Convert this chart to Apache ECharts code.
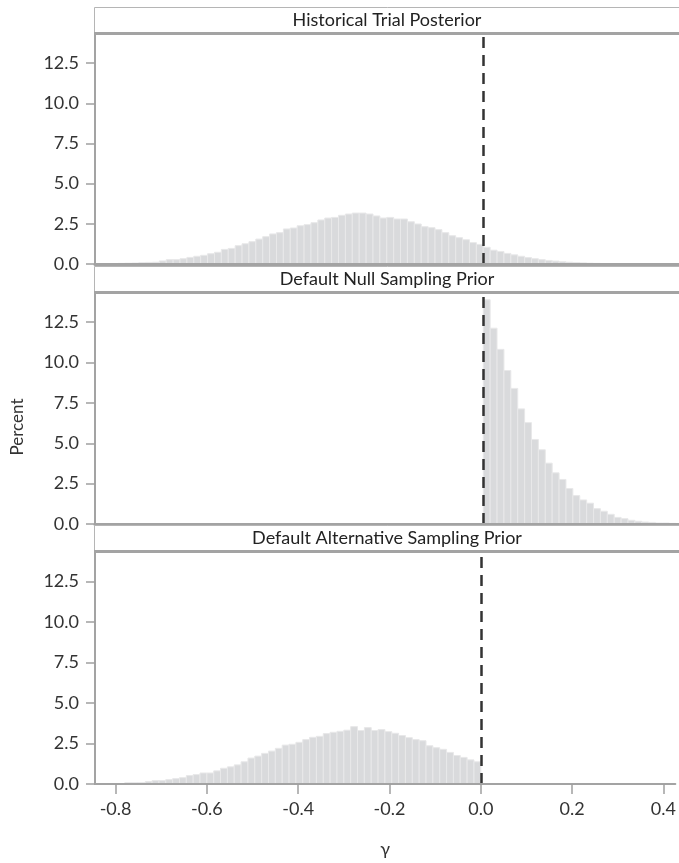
<!DOCTYPE html>
<html>
<head>
<meta charset="utf-8">
<script src="https://cdn.jsdelivr.net/npm/echarts@6/dist/echarts.min.js"></script>
<style>
html,body{margin:0;padding:0;background:#fff;}
#chart{width:679px;height:863px;}
</style>
</head>
<body>
<div id="chart"></div>
<script>
// ---- data ----
const binWidth = 0.015;
const panelTitles = ['Historical Trial Posterior', 'Default Null Sampling Prior', 'Default Alternative Sampling Prior'];
const histStart = -0.84;
const histPosterior = [
  0.02,0.02,0.03,0.04,0.05,0.06,0.08,0.10,0.11,0.19,0.27,0.27,0.33,0.41,0.48,0.54,0.64,0.73,0.91,0.97,
  1.14,1.26,1.39,1.55,1.70,1.87,1.95,2.18,2.24,2.38,2.45,2.57,2.74,2.86,2.90,3.03,3.11,3.17,3.17,3.11,
  2.99,2.86,2.90,2.80,2.80,2.63,2.49,2.32,2.26,2.14,1.95,1.76,1.64,1.51,1.33,1.22,1.04,0.86,0.78,0.66,
  0.57,0.48,0.40,0.33,0.27,0.22,0.18,0.14,0.11,0.09,0.07,0.05,0.04,0.03,0.02,0.02,0.01,0.01,0.01,0.01
];
const nullStart = 0.0;
const nullPrior = [
  13.89,12.13,10.82,9.51,8.40,7.13,6.28,5.24,4.60,3.77,3.17,2.76,2.20,1.76,1.49,1.29,0.95,0.79,0.60,0.41,
  0.33,0.23,0.17,0.12,0.10,0.06,0.06,0.04
];
const altStart = -0.84;
const altPrior = [
  0.02,0.02,0.02,0.02,0.08,0.08,0.08,0.15,0.21,0.21,0.27,0.33,0.39,0.52,0.58,0.68,0.68,0.81,0.97,1.06,
  1.18,1.37,1.60,1.72,1.89,2.03,2.20,2.40,2.45,2.57,2.74,2.88,2.94,3.11,3.19,3.25,3.32,3.54,3.30,3.48,
  3.30,3.36,3.23,3.13,2.99,2.86,2.74,2.67,2.36,2.24,2.14,1.95,1.76,1.64,1.49,1.37
];
const xTicks = [-0.8, -0.6, -0.4, -0.2, 0.0, 0.2, 0.4];
const yTicks = [0, 2.5, 5.0, 7.5, 10.0, 12.5];
const refLineX = 0;

// ---- build ----
function toBins(start, vals) {
  return vals.map((v, i) => {
    const a = +(start + i * binWidth).toFixed(4);
    return [a, +(a + binWidth).toFixed(4), v];
  });
}
const seriesData = [toBins(histStart, histPosterior), toBins(nullStart, nullPrior), toBins(altStart, altPrior)];

const FONT = 'Lato';
const gridTops = [35, 294, 553];
const gridH = [229, 230, 231];
const stripTops = [7.5, 266.5, 525.5];

const chart = echarts.init(document.getElementById('chart'), null, {renderer: 'canvas'});

const grids = [], xAxes = [], yAxes = [], series = [], graphics = [];
for (let k = 0; k < 3; k++) {
  grids.push({left: 95, top: gridTops[k], width: 584, height: gridH[k], containLabel: false});
  const last = k === 2;
  xAxes.push({
    type: 'value', gridIndex: k, min: -0.845, max: 0.426, z: 5,
    splitLine: {show: false},
    axisLine: {show: true, onZero: false, lineStyle: {color: '#a3a3a3', width: last ? 2 : 3}},
    axisTick: {show: last, length: 10, customValues: xTicks, lineStyle: {color: '#a0a0a0', width: 1.5}},
    axisLabel: {show: last, customValues: xTicks, margin: 16, fontFamily: FONT, fontSize: 18, color: '#333',
      formatter: v => v.toFixed(1)},
    name: last ? 'γ' : '', nameLocation: 'middle', nameGap: 56,
    nameTextStyle: {fontFamily: FONT, fontSize: 18, color: '#333'}
  });
  yAxes.push({
    type: 'value', gridIndex: k, min: 0, max: 14.25, z: 5,
    splitLine: {show: false},
    axisLine: {show: true, onZero: false, lineStyle: {color: '#a3a3a3', width: 2}},
    axisTick: {show: true, length: 9, customValues: yTicks, lineStyle: {color: '#a0a0a0', width: 1.5}},
    axisLabel: {customValues: yTicks, margin: 16, fontFamily: FONT, fontSize: 18, color: '#333',
      formatter: v => v.toFixed(1)}
  });
  series.push({
    type: 'custom', xAxisIndex: k, yAxisIndex: k,
    data: seriesData[k],
    encode: {x: [0, 1], y: 2},
    renderItem: function (params, api) {
      const p0 = api.coord([api.value(0), api.value(2)]);
      const p1 = api.coord([api.value(1), 0]);
      return {
        type: 'rect',
        shape: {x: p0[0], y: p0[1], width: p1[0] - p0[0], height: p1[1] - p0[1]},
        style: {fill: '#d9dadc', stroke: '#e8e8e9', lineWidth: 1}
      };
    },
    markLine: {
      silent: true, symbol: 'none', animation: false,
      label: {show: false},
      lineStyle: {color: '#333', width: 2.5, type: [11, 7]},
      data: [{xAxis: refLineX}]
    },
    z: 2
  });
  // strip
  graphics.push({
    type: 'rect', shape: {x: 94.5, y: stripTops[k], width: 700, height: 25},
    style: {fill: '#fff', stroke: '#b5b5b5', lineWidth: 1}, z: 10
  });
  graphics.push({
    type: 'rect', shape: {x: 94, y: stripTops[k] + 24.5, width: 700, height: 3},
    style: {fill: '#a3a3a3'}, z: 11
  });
  graphics.push({
    type: 'text', x: 387, y: stripTops[k] + 12.5,
    style: {text: panelTitles[k], fontFamily: FONT, fontSize: 18, fill: '#222', align: 'center', verticalAlign: 'middle'},
    z: 12
  });
}
graphics.push({
  type: 'text', x: 18, y: 427, rotation: Math.PI / 2,
  style: {text: 'Percent', fontFamily: FONT, fontSize: 17, fill: '#333', align: 'center', verticalAlign: 'middle'},
  z: 12
});

chart.setOption({
  backgroundColor: '#fff',
  animation: false,
  grid: grids, xAxis: xAxes, yAxis: yAxes, series: series,
  graphic: graphics
});
</script>
</body>
</html>
